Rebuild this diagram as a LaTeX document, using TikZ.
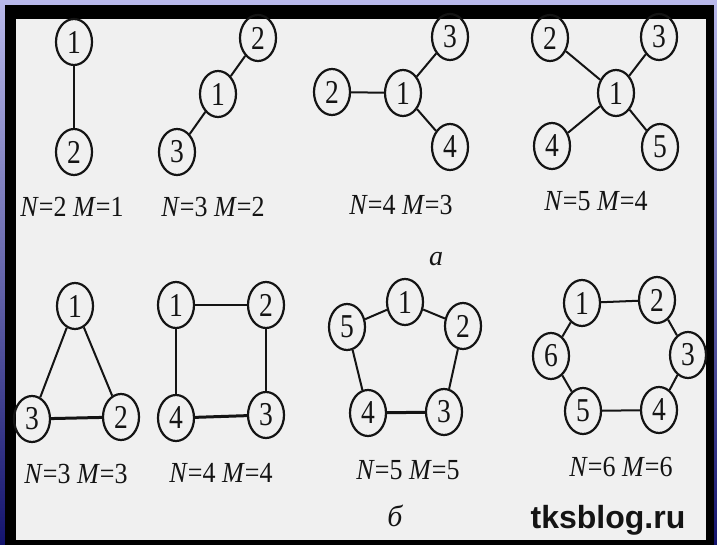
\documentclass[tikz,border=0pt]{standalone}
\usepackage{fontspec}
\usepackage{graphicx}
\setmainfont{Liberation Serif}
\newfontfamily\sitefont{Liberation Sans}
\usetikzlibrary{shapes.geometric}
\definecolor{bgtop}{RGB}{185,185,235}
\definecolor{bgmid}{RGB}{75,75,205}
\definecolor{bgbot}{RGB}{20,20,110}
\definecolor{paper}{RGB}{240,240,240}
\definecolor{ink}{RGB}{20,20,20}
\newcommand{\vlab}[1]{\scalebox{0.95}[1.15]{#1}}
\newcommand{\nmlab}[1]{\scalebox{1}[1.12]{#1}}
\begin{document}
\begin{tikzpicture}[x=1pt,y=-1pt,
  vtx/.style={ellipse,draw=ink,line width=2.2pt,minimum width=36pt,minimum height=46pt,
    inner sep=0pt,text=ink,font=\fontsize{29}{29}\selectfont},
  lbl/.style={inner sep=0pt,text=ink,font=\fontsize{26}{26}\selectfont},
  edge/.style={draw=ink,line width=2pt},
  heavy/.style={draw=ink,line width=3pt}]
\useasboundingbox (0,0) rectangle (717,545);
\shade[top color=bgtop,middle color=bgmid,bottom color=bgbot] (0,0) rectangle (717,545);
\fill[black] (5,5) rectangle (714,545);
\fill[paper] (16,19) rectangle (706,540);

% graph N=2 M=1
\node[vtx] (a1) at (74,42) {\vlab{1}};
\node[vtx] (a2) at (74,152) {\vlab{2}};
\draw[edge] (a1) -- (a2);
\node[lbl] (la) at (72,207) {\nmlab{\textit{N}=2 \textit{M}=1}};

% graph N=3 M=2
\node[vtx] (b2) at (258,38) {\vlab{2}};
\node[vtx] (b1) at (218,94) {\vlab{1}};
\node[vtx] (b3) at (177,152) {\vlab{3}};
\draw[edge] (b2) -- (b1);
\draw[edge] (b1) -- (b3);
\node[lbl] (lb) at (213,207) {\nmlab{\textit{N}=3 \textit{M}=2}};

% graph N=4 M=3
\node[vtx] (c2) at (332,92) {\vlab{2}};
\node[vtx] (c1) at (403,93) {\vlab{1}};
\node[vtx] (c3) at (450,37) {\vlab{3}};
\node[vtx] (c4) at (450,147) {\vlab{4}};
\draw[edge] (c2) -- (c1);
\draw[edge] (c1) -- (c3);
\draw[edge] (c1) -- (c4);
\node[lbl] (lc) at (401,205) {\nmlab{\textit{N}=4 \textit{M}=3}};
\node[lbl,font=\fontsize{28}{28}\itshape] (ta) at (436,259) {a};

% graph N=5 M=4
\node[vtx] (d2) at (550,38) {\vlab{2}};
\node[vtx] (d3) at (659,37) {\vlab{3}};
\node[vtx] (d1) at (616,93) {\vlab{1}};
\node[vtx] (d4) at (552,146) {\vlab{4}};
\node[vtx] (d5) at (660,147) {\vlab{5}};
\draw[edge] (d1) -- (d2);
\draw[edge] (d1) -- (d3);
\draw[edge] (d1) -- (d4);
\draw[edge] (d1) -- (d5);
\node[lbl] (ld) at (596,201) {\nmlab{\textit{N}=5 \textit{M}=4}};

% graph N=3 M=3
\node[vtx] (e1) at (75,306) {\vlab{1}};
\node[vtx] (e3) at (32,419) {\vlab{3}};
\node[vtx] (e2) at (121,417) {\vlab{2}};
\draw[edge] (e1) -- (e3);
\draw[edge] (e1) -- (e2);
\draw[heavy] (e3) -- (e2);
\node[lbl] (le) at (76,474) {\nmlab{\textit{N}=3 \textit{M}=3}};

% graph N=4 M=4
\node[vtx] (f1) at (176,305) {\vlab{1}};
\node[vtx] (f2) at (266,305) {\vlab{2}};
\node[vtx] (f3) at (266,415) {\vlab{3}};
\node[vtx] (f4) at (176,418) {\vlab{4}};
\draw[edge] (f1) -- (f2);
\draw[edge] (f2) -- (f3);
\draw[heavy] (f3) -- (f4);
\draw[edge] (f4) -- (f1);
\node[lbl] (lf) at (221,473) {\nmlab{\textit{N}=4 \textit{M}=4}};

% graph N=5 M=5
\node[vtx] (g1) at (405,302) {\vlab{1}};
\node[vtx] (g2) at (463,326) {\vlab{2}};
\node[vtx] (g3) at (444,412) {\vlab{3}};
\node[vtx] (g4) at (368,413) {\vlab{4}};
\node[vtx] (g5) at (347,327) {\vlab{5}};
\draw[edge] (g1) -- (g2);
\draw[edge] (g2) -- (g3);
\draw[heavy] (g3) -- (g4);
\draw[edge] (g4) -- (g5);
\draw[edge] (g5) -- (g1);
\node[lbl] (lg) at (408,470) {\nmlab{\textit{N}=5 \textit{M}=5}};
\node[lbl,font=\fontsize{30}{30}\itshape] (tb) at (395,516) {б};

% graph N=6 M=6
\node[vtx] (h1) at (582,303) {\vlab{1}};
\node[vtx] (h2) at (657,300) {\vlab{2}};
\node[vtx] (h3) at (688,355) {\vlab{3}};
\node[vtx] (h4) at (659,410) {\vlab{4}};
\node[vtx] (h5) at (583,411) {\vlab{5}};
\node[vtx] (h6) at (551,356) {\vlab{6}};
\draw[edge] (h1) -- (h2);
\draw[edge] (h2) -- (h3);
\draw[edge] (h3) -- (h4);
\draw[edge] (h4) -- (h5);
\draw[edge] (h5) -- (h6);
\draw[edge] (h6) -- (h1);
\node[lbl] (lh) at (621,467) {\nmlab{\textit{N}=6 \textit{M}=6}};

\node[inner sep=0pt,text=ink,font=\sitefont\bfseries\fontsize{32}{32}\selectfont] (site) at (608,520) {tksblog.ru};
\end{tikzpicture}
\end{document}
